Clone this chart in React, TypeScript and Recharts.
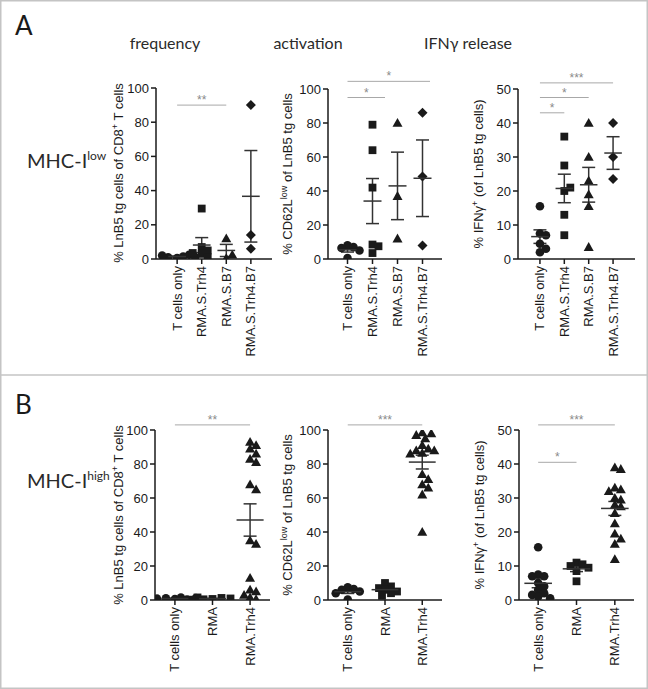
import React from 'react'
import { ScatterChart, Scatter, XAxis, YAxis, ErrorBar, ReferenceLine } from 'recharts'

const FONT = '"Liberation Sans", Arial, sans-serif'
const TITLE_FONT = 'Lato, "Open Sans", sans-serif'
const INK = '#1a1a1a'
const BAR = '#333'

// categories
const catsLow = ['T cells only', 'RMA.S.Trh4', 'RMA.S.B7', 'RMA.S.Trh4.B7']
const catsHigh = ['T cells only', 'RMA', 'RMA.Trh4']
const kindsLow = ['circle', 'square', 'triangle', 'diamond']
const kindsHigh = ['circle', 'square', 'triangle']

// tick values
const pctTicks = [0, 20, 40, 60, 80, 100]
const ifnTicks = [0, 10, 20, 30, 40, 50]

// MHC-I low
const freqLow = [
  [0.5, 1.5, 1, 2.5, 2, 1.2],
  [29.5, 7, 5, 3, 1, 3.5],
  [12, 0.5, 2.5],
  [90, 14, 6],
]
const actLow = [
  [8, 7, 6.5, 5, 0.5],
  [79, 64, 42, 8.5, 7.5, 3.5],
  [80, 37, 12],
  [86, 48.5, 8],
]
const ifnLow = [
  [15.5, 7.5, 7, 4.5, 3, 2],
  [36, 27.5, 20, 21, 13, 7],
  [40, 30, 23, 19, 15.5, 3.5],
  [40, 30, 23.5],
]

// MHC-I high
const freqHigh = [
  [0.5, 1.5, 1, 0.3, 0.8, 1.2],
  [0.6, 1.2, 0.4, 1.5, 0.9, 0.2],
  [93, 91, 89, 86, 83, 81, 68, 65, 35, 33, 13, 6, 5, 3, 1.5, 0.5],
]
const actHigh = [
  [7.5, 6.5, 6, 5, 4, 0.3],
  [10, 8, 7, 6, 5, 4, 2.5],
  [98.5, 98, 97, 95, 91, 89, 88, 88, 86.5, 86, 74, 71, 68, 66, 62, 40],
]
const ifnHigh = [
  [15.5, 7.5, 7, 7, 5, 4, 3, 2, 1.5, 1, 0.5],
  [11, 10.5, 10, 9.5, 8.5, 5.5],
  [39, 38.5, 33, 32.5, 32, 30, 29.5, 28, 27.5, 25.5, 22.5, 19.5, 18, 16.5, 12],
]

// significance brackets (category index from/to, y value)
const freqLowSig = [{ from: 0, to: 2, y: 90, stars: '**' }]
const actLowSig = [
  { from: 0, to: 1.5, y: 95, stars: '*' },
  { from: 0, to: 3.3, y: 104.5, stars: '*' },
]
const ifnLowSig = [
  { from: 0, to: 1, y: 43, stars: '*' },
  { from: 0, to: 2, y: 47.5, stars: '*' },
  { from: 0, to: 3, y: 51.8, stars: '***' },
]
const freqHighSig = [{ from: 0, to: 2, y: 103, stars: '**' }]
const actHighSig = [{ from: 0, to: 2, y: 103, stars: '***' }]
const ifnHighSig = [
  { from: 0, to: 1, y: 40.5, stars: '*' },
  { from: 0, to: 2, y: 51.5, stars: '***' },
]

const mean = (a: number[]) => a.reduce((s, v) => s + v, 0) / a.length
const sem = (a: number[]) => {
  const m = mean(a)
  const sd = Math.sqrt(a.reduce((s, v) => s + (v - m) ** 2, 0) / (a.length - 1))
  return sd / Math.sqrt(a.length)
}

// simple beeswarm: horizontal offsets (in category units) so dots don't stack
function swarm(vals: number[], pxY: number, pxX: number) {
  const minD = 6.2, step = 3
  const placed: { dx: number; py: number }[] = []
  vals.forEach(v => {
    const py = v * pxY
    let dx = 0
    for (let i = 0; i < 40; i++) {
      const c = i === 0 ? 0 : (i % 2 === 1 ? 1 : -1) * Math.ceil(i / 2) * step
      if (placed.every(p => Math.hypot(p.dx - c, p.py - py) >= minD)) { dx = c; break }
    }
    placed.push({ dx, py })
  })
  return placed.map(p => p.dx / pxX)
}

function Marker({ cx, cy, kind }: any) {
  if (cx == null || cy == null) return null
  if (kind === 'circle') return <circle cx={cx} cy={cy} r={4.3} fill={INK} />
  if (kind === 'square') return <rect x={cx - 3.9} y={cy - 3.9} width={7.8} height={7.8} fill={INK} />
  if (kind === 'triangle')
    return <polygon points={`${cx},${cy - 5} ${cx + 5},${cy + 3.8} ${cx - 5},${cy + 3.8}`} fill={INK} />
  return <polygon points={`${cx},${cy - 5} ${cx + 5},${cy} ${cx},${cy + 5} ${cx - 5},${cy}`} fill={INK} />
}

type Plot = { x0: number; y0: number; x1: number; y1: number }

function DotPlot({ plot, cats, kinds, groups, yMax, yTicks, sig, pad }: {
  plot: Plot; cats: string[]; kinds: string[]; groups: number[][]; yMax: number; yTicks: number[]; sig: any[]; pad: number
}) {
  const yw = 80, mt = 50, xh = 110, mr = 6
  const L = plot.x0 - yw, T = plot.y0 - mt
  const W = plot.x1 - L + mr, H = plot.y1 - T + xh
  const n = cats.length
  const pxX = (plot.x1 - plot.x0) / (n - 1 + 2 * pad)
  const pxY = (plot.y1 - plot.y0) / yMax
  const hw = 0.36 * pxX
  const summary = groups.map((g, i) => ({ x: i, y: mean(g), err: sem(g) }))

  return (
    <div style={{ position: 'absolute', left: L, top: T }}>
      <ScatterChart width={W} height={H} margin={{ top: mt, right: mr, left: 0, bottom: 0 }}>
        <XAxis type="number" dataKey="x" domain={[-pad, n - 1 + pad]} ticks={cats.map((_, i) => i)} interval={0}
          height={xh} tickSize={5} stroke={INK} strokeWidth={1.5} allowDataOverflow
          tick={(p: any) => (
            <text transform={`translate(${p.x},${p.y}) rotate(-90)`} textAnchor="end" dominantBaseline="central"
              fontSize={13} fontFamily={FONT} fill={INK}>{cats[p.payload.value]}</text>
          )} />
        <YAxis type="number" dataKey="y" domain={[0, yMax]} ticks={yTicks} interval={0} width={yw}
          tickSize={5} stroke={INK} strokeWidth={1.5} allowDataOverflow
          tick={{ fontSize: 13, fill: INK, fontFamily: FONT }} />
        {sig.map((s, i) => (
          <ReferenceLine key={'s' + i} segment={[{ x: s.from, y: s.y }, { x: s.to, y: s.y }]} ifOverflow="visible"
            stroke="#a8a8a8" strokeWidth={1}
            label={{ value: s.stars, position: 'top', fill: '#8a8a8a', fontSize: 12, fontFamily: FONT, offset: 1 }} />
        ))}
        {groups.map((g, i) => {
          const dx = swarm(g, pxY, pxX)
          const pts = g.map((v, j) => ({ x: i + dx[j], y: v }))
          return (
            <Scatter key={'g' + i} data={pts} isAnimationActive={false}
              shape={(p: any) => <Marker cx={p.cx} cy={p.cy} kind={kinds[i]} />} />
          )
        })}
        <Scatter data={summary} isAnimationActive={false}
          shape={(p: any) => <line x1={p.cx - hw} x2={p.cx + hw} y1={p.cy} y2={p.cy} stroke={BAR} strokeWidth={1.5} />}>
          <ErrorBar dataKey="err" direction="y" width={6.5} stroke={BAR} strokeWidth={1.5} isAnimationActive={false} />
        </Scatter>
      </ScatterChart>
    </div>
  )
}

function YLabel({ cx, cy, pre, sup, post }: { cx: number; cy: number; pre: string; sup: string; post: string }) {
  return (
    <text transform={`translate(${cx},${cy}) rotate(-90)`} textAnchor="middle" fontSize={13} fontFamily={FONT} fill={INK}>
      {pre}<tspan dy={-5} fontSize={9}>{sup}</tspan><tspan dy={5}>{post}</tspan>
    </text>
  )
}

const plotsLow: Plot[] = [
  { x0: 156, y0: 88, x1: 272, y1: 259 },
  { x0: 328, y0: 89, x1: 442, y1: 259 },
  { x0: 518, y0: 89, x1: 635, y1: 259 },
]
const plotsHigh: Plot[] = [
  { x0: 155, y0: 430, x1: 270, y1: 600 },
  { x0: 328, y0: 430, x1: 442, y1: 600 },
  { x0: 519, y0: 430, x1: 634, y1: 600 },
]

export default function App() {
  return (
    <div style={{ position: 'absolute', left: 0, top: 0, width: 648, height: 689, background: '#fff' }}>
      <DotPlot plot={plotsLow[0]} cats={catsLow} kinds={kindsLow} groups={freqLow} yMax={100} yTicks={pctTicks} sig={freqLowSig} pad={0.86} />
      <DotPlot plot={plotsLow[1]} cats={catsLow} kinds={kindsLow} groups={actLow} yMax={100} yTicks={pctTicks} sig={actLowSig} pad={0.78} />
      <DotPlot plot={plotsLow[2]} cats={catsLow} kinds={kindsLow} groups={ifnLow} yMax={50} yTicks={ifnTicks} sig={ifnLowSig} pad={0.9} />
      <DotPlot plot={plotsHigh[0]} cats={catsHigh} kinds={kindsHigh} groups={freqHigh} yMax={100} yTicks={pctTicks} sig={freqHighSig} pad={0.53} />
      <DotPlot plot={plotsHigh[1]} cats={catsHigh} kinds={kindsHigh} groups={actHigh} yMax={100} yTicks={pctTicks} sig={actHighSig} pad={0.53} />
      <DotPlot plot={plotsHigh[2]} cats={catsHigh} kinds={kindsHigh} groups={ifnHigh} yMax={50} yTicks={ifnTicks} sig={ifnHighSig} pad={0.5} />
      <svg width={648} height={689} style={{ position: 'absolute', left: 0, top: 0, pointerEvents: 'none' }}>
        <rect x={0.75} y={0.75} width={646.5} height={687.5} fill="none" stroke="#c4c4c4" strokeWidth={1.5} />
        <line x1={0} x2={648} y1={375} y2={375} stroke="#c4c4c4" strokeWidth={1.5} />
        <text x={15} y={35} fontSize={26} fontFamily={TITLE_FONT} fill={INK}>A</text>
        <text x={15} y={414} fontSize={26} fontFamily={TITLE_FONT} fill={INK}>B</text>
        <text x={165} y={49} textAnchor="middle" fontSize={16} fontFamily={TITLE_FONT} fill="#2a2a2a">frequency</text>
        <text x={308} y={49} textAnchor="middle" fontSize={16} fontFamily={TITLE_FONT} fill="#2a2a2a">activation</text>
        <text x={468} y={49} textAnchor="middle" fontSize={16} fontFamily={TITLE_FONT} fill="#2a2a2a">IFNγ release</text>
        <text x={27} y={168} fontSize={20} fontFamily={TITLE_FONT} fill="#2a2a2a">MHC-I<tspan dy={-8} fontSize={12}>low</tspan></text>
        <text x={27} y={488} fontSize={20} fontFamily={TITLE_FONT} fill="#2a2a2a">MHC-I<tspan dy={-8} fontSize={12}>high</tspan></text>
        <YLabel cx={123} cy={173} pre="% LnB5 tg cells of CD8" sup="+" post=" T cells" />
        <YLabel cx={292} cy={174} pre="% CD62L" sup="low" post=" of LnB5 tg cells" />
        <YLabel cx={483} cy={174} pre="% IFNγ" sup="+" post=" (of LnB5 tg cells)" />
        <YLabel cx={123} cy={515} pre="% LnB5 tg cells of CD8" sup="+" post=" T cells" />
        <YLabel cx={292} cy={515} pre="% CD62L" sup="low" post=" of LnB5 tg cells" />
        <YLabel cx={484} cy={515} pre="% IFNγ" sup="+" post=" (of LnB5 tg cells)" />
      </svg>
    </div>
  )
}
